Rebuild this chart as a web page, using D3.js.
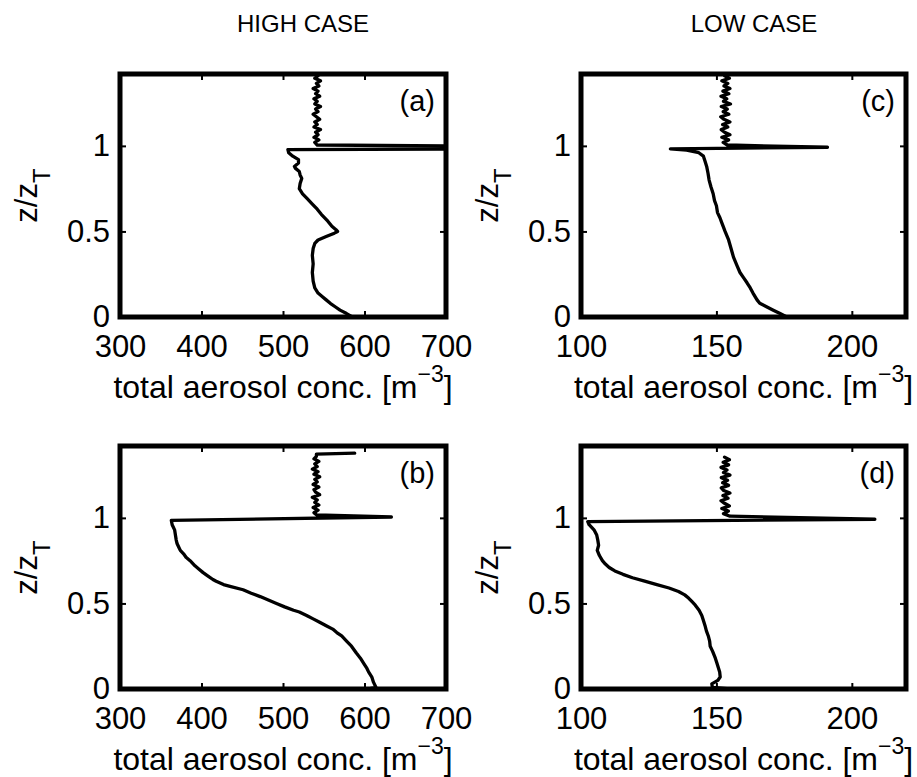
<!DOCTYPE html>
<html>
<head>
<meta charset="utf-8">
<script src="https://cdn.jsdelivr.net/npm/d3@7"></script>
<style>
  body { margin: 0; background: #fff; }
  text { font-family: "Liberation Sans", Arial, Helvetica, sans-serif; fill: #000; }
</style>
</head>
<body>
<svg id="fig" width="917" height="777"></svg>
<script>
// ---- axis ticks and labels ----
const highTicks = [300, 400, 500, 600, 700];
const lowTicks = [100, 150, 200];
const highDomain = [300, 700];
const lowDomain = [100, 220];
const zDomain = [0, 1.42];
const zTicks = [0, 0.5, 1];
const zTickLabels = ["0", "0.5", "1"];
const columnTitles = ["HIGH CASE", "LOW CASE"];
const panelLetters = ["(a)", "(b)", "(c)", "(d)"];

// ---- (a) high case, profile 1 ----
const zA = [0.00, 0.02, 0.04, 0.06, 0.08, 0.10, 0.12, 0.14, 0.17, 0.21, 0.26, 0.31, 0.36, 0.40, 0.43, 0.45, 0.47, 0.49, 0.50, 0.51, 0.53, 0.56, 0.60, 0.63, 0.66, 0.69, 0.72, 0.75, 0.78, 0.81, 0.83, 0.85, 0.87, 0.88, 0.90, 0.92, 0.94, 0.96, 0.978, 0.983, 0.998, 1.005,
  1.02, 1.035, 1.05, 1.065, 1.08, 1.095, 1.11, 1.125, 1.14, 1.155, 1.17, 1.185, 1.20, 1.215, 1.23, 1.245, 1.26, 1.275, 1.29, 1.305, 1.32, 1.335, 1.35, 1.365, 1.38, 1.395, 1.41, 1.42];
const concA = [585, 578, 570, 564, 558, 553, 548, 543, 539, 537, 536, 537, 536, 537, 539, 543, 553, 563, 567, 565, 560, 555, 547, 542, 536, 530, 524, 520, 521, 523, 521, 520, 515, 514, 519, 519, 512, 507, 506, 760, 760, 542,
  539, 544, 538, 543, 540, 546, 538, 542, 539, 545, 541, 537, 543, 540, 546, 539, 542, 538, 545, 540, 543, 537, 544, 541, 546, 539, 543, 540];

// ---- (b) high case, profile 2 ----
const zB = [0.00, 0.01, 0.04, 0.07, 0.10, 0.12, 0.15, 0.18, 0.21, 0.25, 0.28, 0.31, 0.33, 0.35, 0.37, 0.39, 0.41, 0.43, 0.45, 0.46, 0.48, 0.50, 0.52, 0.54, 0.56, 0.58, 0.60, 0.61, 0.63, 0.64, 0.66, 0.68, 0.70, 0.72, 0.75, 0.77, 0.79, 0.81, 0.83, 0.85, 0.87, 0.90, 0.93, 0.96, 0.985, 1.005, 1.018,
  1.03, 1.045, 1.06, 1.075, 1.09, 1.105, 1.12, 1.135, 1.15, 1.165, 1.18, 1.195, 1.21, 1.225, 1.24, 1.255, 1.27, 1.285, 1.30, 1.315, 1.33, 1.345, 1.36, 1.372, 1.378];
const concB = [604, 614, 611, 609, 605, 603, 599, 595, 590, 584, 578, 572, 566, 561, 553, 545, 537, 529, 520, 513, 502, 492, 482, 472, 461, 451, 435, 427, 418, 414, 408, 402, 397, 392, 386, 381, 378, 374, 372, 370, 369, 368, 367, 364, 363, 633, 541,
  538, 543, 537, 544, 539, 542, 536, 545, 540, 538, 544, 537, 542, 539, 545, 538, 543, 536, 542, 539, 544, 538, 541, 541, 588];

// ---- (c) low case, profile 1 ----
const zC = [0.00, 0.02, 0.04, 0.06, 0.08, 0.10, 0.14, 0.17, 0.20, 0.23, 0.26, 0.30, 0.35, 0.40, 0.45, 0.50, 0.55, 0.58, 0.61, 0.65, 0.68, 0.72, 0.76, 0.80, 0.84, 0.88, 0.91, 0.94, 0.96, 0.975, 0.983, 0.992, 1.005,
  1.02, 1.035, 1.05, 1.065, 1.08, 1.095, 1.11, 1.125, 1.14, 1.155, 1.17, 1.185, 1.20, 1.215, 1.23, 1.245, 1.26, 1.275, 1.29, 1.305, 1.32, 1.335, 1.35, 1.365, 1.38, 1.395, 1.41, 1.42];
const concC = [176, 173.5, 171, 168.5, 166, 165, 163.5, 162.5, 161.3, 160, 158.7, 157.6, 156.3, 155.4, 154.5, 153.2, 152, 151.3, 150.4, 150, 149.3, 148.8, 148, 147.3, 146.9, 146.4, 145.8, 145.2, 143.5, 139, 133, 191, 154,
  152.5, 154.5, 152, 155, 153, 151.8, 154.2, 152.3, 155, 152.8, 151.6, 154.6, 152.5, 154, 151.8, 155.2, 152.6, 153.8, 151.7, 154.6, 152.4, 155, 152.8, 154.2, 152, 154.8, 153];

// ---- (d) low case, profile 2 ----
const zD = [0.00, 0.01, 0.03, 0.05, 0.07, 0.10, 0.12, 0.15, 0.18, 0.22, 0.25, 0.28, 0.31, 0.34, 0.37, 0.40, 0.43, 0.46, 0.49, 0.51, 0.53, 0.55, 0.57, 0.59, 0.61, 0.63, 0.65, 0.67, 0.69, 0.71, 0.73, 0.75, 0.78, 0.81, 0.84, 0.87, 0.90, 0.93, 0.96, 0.978, 0.992, 1.01,
  1.025, 1.04, 1.055, 1.07, 1.085, 1.10, 1.115, 1.13, 1.145, 1.16, 1.175, 1.19, 1.205, 1.22, 1.235, 1.25, 1.265, 1.28, 1.295, 1.31, 1.325, 1.34, 1.355, 1.37, 1.385, 1.40, 1.42];
const concD = [155, 148.5, 148.3, 150.5, 151.4, 151.2, 150.8, 150.2, 149.6, 148.6, 147.7, 147.5, 147, 146.3, 145.8, 145.2, 144.6, 143.6, 142.2, 141, 139.8, 138.3, 136, 132.5, 128, 123.5, 119, 115.5, 112.5, 110.4, 109, 107.9, 106.8, 106, 106.5, 106.2, 105.8, 104.8, 103, 102.5, 208.5, 155,
  152.6, 154.4, 152, 154.8, 153, 151.7, 154.3, 152.4, 155, 152.7, 151.8, 154.5, 152.3, 154.1, 151.8, 155, 152.6, 153.9, 151.7, 154.5, 152.5, 154.8, 153];

// ---- layout ----
const colX = [[120, 446], [581, 906]];
const rowY = [[74, 317], [446, 689]];
const font = 31;

const panels = [
  { col: 0, row: 0, domain: highDomain, ticks: highTicks, z: zA, c: concA, letter: panelLetters[0] },
  { col: 0, row: 1, domain: highDomain, ticks: highTicks, z: zB, c: concB, letter: panelLetters[1] },
  { col: 1, row: 0, domain: lowDomain,  ticks: lowTicks,  z: zC, c: concC, letter: panelLetters[2] },
  { col: 1, row: 1, domain: lowDomain,  ticks: lowTicks,  z: zD, c: concD, letter: panelLetters[3] }
];

const svg = d3.select("#fig");

// column headings
columnTitles.forEach((t, i) => {
  svg.append("text")
    .attr("x", i === 0 ? 303 : 754)
    .attr("y", 32)
    .attr("text-anchor", "middle")
    .attr("font-size", 24)
    .text(t);
});

panels.forEach((p, k) => {
  const [x0, x1] = colX[p.col];
  const [y0, y1] = rowY[p.row];
  const w = x1 - x0, h = y1 - y0;

  const x = d3.scaleLinear().domain(p.domain).range([0, w]);
  const y = d3.scaleLinear().domain(zDomain).range([h, 0]);

  const g = svg.append("g").attr("transform", `translate(${x0},${y0})`);

  const clipId = "clip" + k;
  g.append("clipPath").attr("id", clipId)
    .append("rect").attr("x", 0).attr("y", 0).attr("width", w).attr("height", h);

  // profile
  const pts = p.z.map((z, i) => ({ z, c: p.c[i] }));
  const line = d3.line().x(d => x(d.c)).y(d => y(d.z));
  g.append("path")
    .datum(pts)
    .attr("clip-path", `url(#${clipId})`)
    .attr("fill", "none")
    .attr("stroke", "#000")
    .attr("stroke-width", 3.3)
    .attr("stroke-linejoin", "round")
    .attr("stroke-linecap", "round")
    .attr("d", line);

  // axes: labelled bottom/left, bare inward ticks on top/right
  const styleAxis = sel => {
    sel.select(".domain").remove();
    sel.selectAll(".tick line").attr("stroke", "#000").attr("stroke-width", 2);
    sel.selectAll("text")
      .attr("font-size", font)
      .attr("font-family", '"Liberation Sans", Arial, Helvetica, sans-serif')
      .attr("fill", "#000");
  };

  g.append("g").attr("transform", `translate(0,${h})`)
    .call(d3.axisBottom(x).tickValues(p.ticks).tickFormat(d3.format("d"))
      .tickSizeInner(-6).tickSizeOuter(0).tickPadding(18))
    .call(styleAxis);

  g.append("g")
    .call(d3.axisTop(x).tickValues(p.ticks).tickFormat("")
      .tickSizeInner(-6).tickSizeOuter(0))
    .call(styleAxis);

  g.append("g")
    .call(d3.axisLeft(y).tickValues(zTicks).tickFormat((d, i) => zTickLabels[i])
      .tickSizeInner(-6).tickSizeOuter(0).tickPadding(10))
    .call(styleAxis);

  g.append("g").attr("transform", `translate(${w},0)`)
    .call(d3.axisRight(y).tickValues(zTicks).tickFormat("")
      .tickSizeInner(-6).tickSizeOuter(0))
    .call(styleAxis);

  // box
  g.append("rect")
    .attr("x", 0).attr("y", 0).attr("width", w).attr("height", h)
    .attr("fill", "none").attr("stroke", "#000").attr("stroke-width", 5);

  // panel letter
  g.append("text")
    .attr("x", w - 11).attr("y", 37)
    .attr("text-anchor", "end")
    .attr("font-size", 29)
    .text(p.letter);

  // x-axis title with superscript
  const xt = g.append("text")
    .attr("x", w / 2).attr("y", h + 81)
    .attr("text-anchor", "middle")
    .attr("font-size", 32);
  xt.append("tspan").text("total aerosol conc. [m");
  xt.append("tspan").attr("font-size", 23).attr("dy", -16).text("\u22123");
  xt.append("tspan").attr("dy", 16).text("]");

  // y-axis title with subscript
  const yt = g.append("text")
    .attr("transform", `translate(-83,${h / 2}) rotate(-90)`)
    .attr("text-anchor", "middle")
    .attr("font-size", 31);
  yt.append("tspan").text("z/z");
  yt.append("tspan").attr("font-size", 24).attr("dy", 13).text("T");
});
</script>
</body>
</html>
